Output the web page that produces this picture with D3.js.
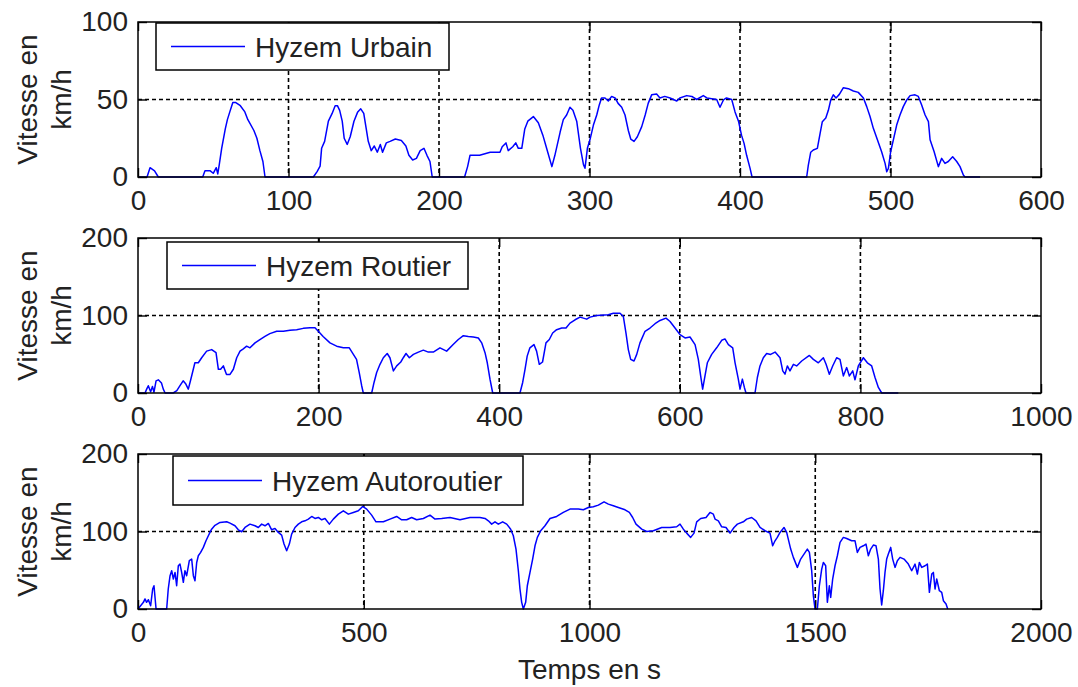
<!DOCTYPE html>
<html>
<head>
<meta charset="utf-8">
<script src="https://cdn.jsdelivr.net/npm/d3@7"></script>
<style>
  body { margin: 0; background: #fff; }
  svg { display: block; }
  text { font-family: "Liberation Sans", Arial, sans-serif; fill: #222; }
</style>
</head>
<body>
<div id="chart"></div>
<script>
// Hyzem Urbain (time s, speed km/h)
const urbainT = [0, 6, 8, 11, 13.5, 43, 44.5, 48, 50, 52, 53, 54, 55.6, 58, 59.4, 61, 63, 65, 68, 71, 73, 77, 79, 81, 83, 84.4,
  116.5, 119, 121, 122, 124, 126.5, 129, 131, 132.5, 134, 135.7, 137, 139, 141, 143.5, 146, 148, 150, 151.5, 153, 155, 157, 159, 161, 162.5, 165, 167.5, 171, 175, 178, 180, 182.5, 185, 187.5, 190, 192, 194, 195.5,
  217, 219, 220.6, 224, 227, 234, 240.5, 242, 244.5, 246, 249, 251, 252.7, 255, 257, 259, 262.7, 266, 269, 271.5, 275, 277, 280.5, 282.6, 284.8, 287, 289, 291.5, 294, 296, 297, 298.6, 300.3, 302.6, 304.8, 306.5, 308,
  310.3, 312.5, 314.7, 317, 319, 321.4, 323.6, 325.8, 327.4, 329.6, 331.8, 334.7, 337, 339, 341.3, 344.6, 346.8, 350, 353.5, 358, 360, 364.6, 368, 371.2, 375.6, 378, 384.5, 386.7, 389, 391, 394.5, 396.7, 399, 401, 402.7, 404.4, 406.7, 408,
  444.3, 445.4, 447, 448.7, 451.4, 453.2, 454.7, 457, 458.7, 460.3, 462, 463.8, 466, 468.7, 472, 475.3, 478.6, 482, 484.2, 486.4, 488.6, 491.3, 494.1, 496.4, 497.5, 498.6, 500.1, 501.9, 504.1, 506.3, 508.5, 510.8, 513, 516.3, 518.5, 520.7, 523, 525.2, 526.3, 529, 531.8, 534, 536.2, 538.4, 541.3, 544, 546.2, 548.4, 549.5, 559.5];
const urbainV = [0, 0, 6, 4, 0, 0, 4, 4, 2.4, 6, 2, 8, 18.5, 31, 37, 42, 48, 48, 46, 42, 37, 30, 25, 17, 10, 0,
  0, 3.5, 7, 18.5, 23, 36, 41, 46, 46, 43, 36, 25, 21, 26, 36, 42, 44, 41, 32, 23, 17, 20, 16, 21, 16, 22, 23, 24.5, 23.5, 20, 14, 11, 12, 17, 18.5, 14, 10, 0,
  0, 6.7, 14, 14, 14, 16, 16, 19.5, 22, 17, 19.5, 22, 18.5, 18.5, 31, 36, 39, 35, 27, 18.5, 6.7, 14, 29, 37, 40, 45, 43, 36, 18.5, 8, 5.6, 18.5, 24, 33.5, 40, 46.5, 51,
  51, 49, 52, 51, 47.5, 45, 40, 30, 24.5, 23, 26, 32.5, 40, 47.5, 53, 53.5, 51, 52, 51, 49, 51, 52.5, 52, 50, 52.5, 51, 50, 45, 49.7, 51, 50, 42, 36, 27, 21.7, 14, 5.6, 0,
  0, 7.7, 16, 17.4, 18.5, 28, 35.7, 38, 43, 49.7, 53, 51, 53.3, 57.6, 57, 55.5, 54.6, 51, 45.4, 39, 31.4, 24, 16.3, 8.8, 3.4, 5.6, 16.3, 24, 33.5, 40, 45.4, 49.7, 52.5, 53, 52, 46.5, 40, 35.7, 24, 16.3, 6.7, 12, 8.8, 10, 13, 10, 6.7, 1.3, 0, 0];

// Hyzem Routier
const routierT = [0, 7.8, 9.6, 11.4, 14, 16, 17.7, 20, 22.5, 26, 28, 30, 39, 43, 46.5, 50, 53, 55.7, 57.6, 59.4, 63, 66.8, 70.5, 76, 81.6, 86.4, 89, 91.5, 94.5, 98, 101.9, 105.6, 109.3, 113, 116.6, 120.3, 124, 129.6, 135, 140.6, 146, 153.6, 161, 168.3, 175.7, 183, 190.5, 196, 199.7,
  205, 212.6, 220, 227.4, 234, 238.5, 242, 245, 247.7, 249.5, 258.8, 261.4, 264.3, 268, 271.7, 276, 279, 282.8, 286.5, 291, 293.8, 296.8, 300.5, 305, 310.5, 316, 321.5, 327, 334.4, 341.8, 349, 354.7, 360.3, 365.8, 371.4, 376.9, 380.6, 384.3, 386.8, 389.8, 392.8,
  423, 426, 428.6, 431, 434, 438.5, 441.4, 444.4, 448, 451.8, 455.5, 459.2, 463.6, 469.2, 474, 478.4, 484, 489.5, 493.2, 496.9, 500.6, 508, 520.9, 526.4, 533.8, 537.5, 540.4, 543, 545.6, 549.3, 552.3, 555.9, 561.5, 567, 572.6, 578.1, 584.7, 589.2, 594.7,
  600.2, 605.8, 611.3, 616.9, 620.5, 623.1, 625.3, 627.9, 630.5, 635.3, 640.8, 646.4, 650, 653.8, 658.6, 661.2, 664.8, 666.7, 669.3, 671.5, 673.3, 683.3, 685.9, 688.8, 692.5, 696.2, 700.6, 705.5, 711, 714, 716.5, 719.1, 722, 725.8, 729.4, 735, 743.5, 747.9,
  753.4, 759, 762, 765.6, 769.3, 773.7, 777.4, 781.1, 784.8, 787.8, 791.5, 794, 797.7, 803.3, 807.7, 812.5, 816.2, 819.9, 823.6, 842];
const routierV = [0, 0, 5, 9.4, 1.7, 8.5, 1, 15.7, 17, 12.8, 5, 0, 0, 3, 9.4, 15.7, 11.5, 5, 13.6, 22, 39, 39, 45.5, 54, 56, 52, 30.6, 30.6, 35, 24, 24, 30.6, 45.5, 54, 57, 60.4, 58.3, 64.7, 69, 73, 76.6, 79.6, 79.6, 80.9, 81.7, 83.4, 84.3, 84.3, 79.6,
  73, 64.7, 60.4, 58.3, 58.3, 49.8, 43.4, 26.4, 9.4, 0, 0, 13.6, 26.4, 37, 45.5, 51, 45.5, 28.5, 35, 40, 45.5, 51, 45.5, 49.8, 52.8, 55.3, 52.8, 52.8, 58.3, 54, 62.5, 69, 74, 73, 72.3, 71, 64.7, 52, 39, 17.9, 0,
  0, 13.6, 30.6, 47.6, 58.3, 62.5, 54, 37, 40, 64.7, 69, 77.4, 81.7, 83.8, 83.8, 90.2, 94.5, 97.9, 96.6, 95.3, 97.9, 100, 100.9, 103, 103, 98.7, 77.4, 56, 43.4, 41.3, 49.8, 64.7, 79.6, 83.8, 89.4, 93.6, 96.6, 92.3, 83.8,
  75.3, 71, 72.3, 62.5, 43.4, 22, 5, 22, 39, 49.8, 58.3, 68, 69.8, 62.5, 58.3, 39, 17.9, 5, 17.9, 7.2, 0, 0, 20, 34.9, 45.5, 51, 49.8, 52.8, 45.5, 28.5, 24.3, 34.9, 28.5, 37, 34.9, 41.3, 48.5, 43.4,
  39, 45.5, 37, 24.3, 34.9, 45.5, 43.4, 22, 32.8, 22, 28.5, 17, 34.9, 45.5, 39, 34.9, 20, 7.2, 0, 0];

// Hyzem Autoroutier
const autoT = [0, 12, 15.5, 19, 23, 28, 32.5, 35.4, 40, 63.5, 67, 71, 74.6, 78.3, 82, 85.6, 89.3, 93, 96.7, 100.4, 104, 107.8, 113.7, 118.9, 122.6, 126.2, 130, 133.6, 138.8, 144.7, 150.6, 155.8, 163, 170.5, 181.6, 196.4, 203.8, 214.8, 222.2, 229.6, 237, 248, 259.1, 266.5, 273.9, 281.3, 288.7, 296,
  303.4, 310.8, 318.2, 323.4, 329.3, 335.2, 340.3, 347.7, 355.1, 362.5, 369.9, 377.3, 384.7, 392, 399.4, 406.8, 414.2, 423.8, 432.6, 443.7, 454.8, 465.9, 476.9, 488, 497.6, 506.5, 517.5, 527.1, 543.4, 558.1, 572.9, 584, 595, 606.1, 617.2, 632, 646.7, 657.8, 672.6, 691, 713.2, 735.3, 757.5, 768.6, 776, 783.3, 790.7, 798.1, 807.7, 816.6, 825.4, 831.3, 837.2, 842.4, 846, 849.8, 853.5, 858.6, 862.3, 868.2, 874.1, 879.3, 884.5, 891.9, 901.4, 912.5, 927.3, 942, 956.8, 975.3, 986.4, 997.5,
  1008.5, 1019.6, 1032.2, 1041.8, 1052.8, 1063.9, 1078.7, 1088.3, 1095.6, 1103, 1115.6, 1126.7, 1141.4, 1159.9, 1178.3, 1193.1, 1200.5, 1207.9, 1215.3, 1224.1, 1231.5, 1237.4, 1246.3, 1258.1, 1266.9, 1274.3, 1278, 1285.4, 1292.8, 1302.4, 1311.2, 1320.1, 1327.5, 1340.7, 1348.1, 1359.2, 1368.8, 1377.7, 1388.7, 1399.8, 1405.7, 1410.9, 1416, 1422, 1430.8, 1436.7, 1445.6, 1451.5, 1460.4, 1467.7, 1475.1, 1482.5, 1487, 1492.1, 1495.8, 1499.5,
  1504.7, 1509.1, 1514.3, 1518, 1523.1, 1526.8, 1531.2, 1534.2, 1538.6, 1543.8, 1549, 1554.9, 1562.3, 1569.6, 1580.7, 1588.1, 1593.2, 1599.2, 1606.5, 1612.4, 1617.6, 1622.8, 1628.7, 1634.6, 1639.8, 1643.5, 1647.1, 1650.8, 1654.5, 1658.2, 1661.9, 1667.1, 1671.5, 1676.7, 1681.9, 1687.8, 1696.6, 1706.2, 1713.6, 1721, 1726.2, 1730.6, 1735.8, 1743.2, 1748.3, 1752.8, 1758, 1761.6, 1765.3, 1769, 1774.9, 1780.1, 1783.8, 1789.7, 1793.4];
const autoV = [0, 8.6, 13, 8.6, 12, 4.3, 25.8, 30, 0, 0, 25.8, 43, 49.4, 38.7, 47.2, 30, 55.8, 58, 47.2, 34.4, 49.4, 43, 62.3, 64.4, 43, 36.5, 60, 68.7, 73, 79.5, 88, 94.5, 103, 108, 111.7, 112.5, 110.8, 107.4, 102.2, 99.7, 105.2, 109.5, 107.4, 105.2, 109.5, 107.4, 110.4, 102.2,
  104, 98.8, 95.4, 83.8, 75.2, 83.8, 96.6, 105.2, 109.5, 112.5, 113.8, 116, 119.4, 116.8, 118.1, 115.1, 116.8, 109.5, 116, 122.4, 126.7, 122.4, 124.6, 126.7, 132.3, 128.9, 121.1, 112.5, 112.5, 116, 119.4, 115.1, 115.1, 118.1, 115.1, 116.8, 121.1, 116, 116.8, 118.1, 115.1, 118.1, 118.1, 116.8, 113.8, 109.5, 112.5, 109.5, 112.5, 109.5, 103, 94.5, 77.3, 49.4, 25.8, 8.6, 0, 8.6, 30, 47.2, 64.4, 81.6, 92.4, 101, 107.4, 116.8, 119.4, 124.6, 128.9, 128.9, 128, 131,
  131.9, 134, 138.3, 135.3, 133.2, 131, 128, 124.6, 118.1, 109.5, 103, 100, 101, 105.2, 105.2, 106.1, 109.5, 103, 97.9, 92.4, 97.9, 112.5, 116.8, 118.1, 124.6, 122.4, 116, 113.8, 106.1, 105.2, 97.9, 105.2, 109.5, 112.5, 116, 118.1, 113.8, 105.2, 101, 97.9, 81.6, 88, 92.4, 98.8, 105.2, 98.8, 77.3, 66.6, 53.7, 64.4, 70.9, 77.3, 73, 49.4, 17.2, 0,
  0, 30, 51.5, 60.1, 55.8, 8.6, 30, 15, 38.7, 55.8, 68.7, 85.9, 92.4, 91, 88, 88, 73, 79.5, 81.6, 83.8, 68.7, 77.3, 82.5, 81.6, 64.4, 25.8, 5.2, 23.6, 47.2, 64.4, 70.9, 79.5, 64.4, 53.7, 62.3, 66.6, 64.4, 58, 49.4, 58, 45.1, 60.1, 53.7, 55.8, 58, 21.5, 45.1, 47.2, 25.8, 38.7, 23.6, 21.5, 10.7, 6.4, 0];

const seriesNames = ['Hyzem Urbain', 'Hyzem Routier', 'Hyzem Autoroutier'];
const xMax = [600, 1000, 2000];
const xStep = [100, 200, 500];
const yMax = [100, 200, 200];
const yStep = [50, 100, 100];

const panels = [
  { t: urbainT, v: urbainV, top: 22, legend: { x: 156, y: 1, w: 293, h: 47 } },
  { t: routierT, v: routierV, top: 238, legend: { x: 167, y: 4, w: 301, h: 47 } },
  { t: autoT, v: autoV, top: 454, legend: { x: 173, y: 2, w: 350, h: 49 } },
];

const W = 1078, H = 687;
const left = 138, plotW = 903, plotH = 155;

const svg = d3.select('#chart').append('svg')
  .attr('width', W).attr('height', H);

panels.forEach((p, i) => {
  const x = d3.scaleLinear().domain([0, xMax[i]]).range([0, plotW]);
  const y = d3.scaleLinear().domain([0, yMax[i]]).range([plotH, 0]);
  const xTicks = d3.range(0, xMax[i] + 1, xStep[i]);
  const yTicks = d3.range(0, yMax[i] + 1, yStep[i]);

  const g = svg.append('g').attr('transform', `translate(${left},${p.top})`);

  // grid
  g.append('g').selectAll('line')
    .data(xTicks.filter(d => d > 0 && d < xMax[i]))
    .join('line')
    .attr('x1', d => x(d)).attr('x2', d => x(d))
    .attr('y1', 0).attr('y2', plotH)
    .attr('stroke', '#000').attr('stroke-width', 1.6)
    .attr('stroke-dasharray', '4,3');
  g.append('g').selectAll('line')
    .data(yTicks.filter(d => d > 0 && d < yMax[i]))
    .join('line')
    .attr('x1', 0).attr('x2', plotW)
    .attr('y1', d => y(d)).attr('y2', d => y(d))
    .attr('stroke', '#000').attr('stroke-width', 1.6)
    .attr('stroke-dasharray', '4,3');

  // trace
  const pts = p.t.map((t, k) => [t, p.v[k]]);
  g.append('path')
    .datum(pts)
    .attr('fill', 'none')
    .attr('stroke', '#0000ff')
    .attr('stroke-width', 1.5)
    .attr('stroke-linejoin', 'round')
    .attr('d', d3.line().x(d => x(d[0])).y(d => y(d[1])));

  // axes, ticks inward like matlab
  const ax = (axis) => axis.tickSizeInner(-9).tickSizeOuter(0);
  const fmt = d3.format('d');
  const bottom = g.append('g').attr('transform', `translate(0,${plotH})`)
    .call(ax(d3.axisBottom(x).tickValues(xTicks).tickFormat(fmt).tickPadding(13)));
  const topAx = g.append('g')
    .call(ax(d3.axisTop(x).tickValues(xTicks).tickFormat('')));
  const leftAx = g.append('g')
    .call(ax(d3.axisLeft(y).tickValues(yTicks).tickFormat(fmt).tickPadding(10)));
  const rightAx = g.append('g').attr('transform', `translate(${plotW},0)`)
    .call(ax(d3.axisRight(y).tickValues(yTicks).tickFormat('')));

  [bottom, topAx, leftAx, rightAx].forEach(a => {
    a.select('.domain').remove();
    a.selectAll('line').attr('stroke', '#000').attr('stroke-width', 1.4);
    a.selectAll('text').attr('fill', '#222')
      .style('font-size', '28px')
      .style('font-family', '"Liberation Sans", Arial, sans-serif');
  });

  // legend
  const lg = g.append('g').attr('transform', `translate(${p.legend.x - left},${p.legend.y})`);
  lg.append('rect')
    .attr('width', p.legend.w).attr('height', p.legend.h)
    .attr('fill', '#fff').attr('stroke', '#000').attr('stroke-width', 1.5);
  lg.append('line')
    .attr('x1', 15).attr('x2', 89)
    .attr('y1', p.legend.h / 2).attr('y2', p.legend.h / 2)
    .attr('stroke', '#0000ff').attr('stroke-width', 1.5);
  lg.append('text')
    .attr('x', 99).attr('y', p.legend.h / 2 + 10)
    .style('font-size', '28px')
    .text(seriesNames[i]);

  // box
  g.append('rect')
    .attr('width', plotW).attr('height', plotH)
    .attr('fill', 'none').attr('stroke', '#000').attr('stroke-width', 1.5);

  // y label
  const cy = p.top + plotH / 2;
  const yl = svg.append('text')
    .attr('transform', `translate(37,${cy}) rotate(-90)`)
    .attr('text-anchor', 'middle')
    .style('font-size', '28px');
  yl.append('tspan').attr('x', 0).attr('y', 0).text('Vitesse en');
  yl.append('tspan').attr('x', 0).attr('y', 34).text('km/h');
});

svg.append('text')
  .attr('x', left + plotW / 2).attr('y', 679)
  .attr('text-anchor', 'middle')
  .style('font-size', '28px')
  .text('Temps en s');
</script>
</body>
</html>
